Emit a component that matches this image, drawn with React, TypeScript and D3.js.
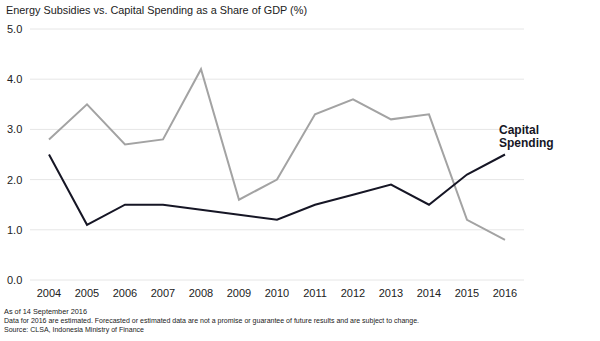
import React from "react";
import * as d3 from "d3";

const years = [2004, 2005, 2006, 2007, 2008, 2009, 2010, 2011, 2012, 2013, 2014, 2015, 2016];
const energySubsidies = [2.8, 3.5, 2.7, 2.8, 4.2, 1.6, 2.0, 3.3, 3.6, 3.2, 3.3, 1.2, 0.8];
const capitalSpending = [2.5, 1.1, 1.5, 1.5, 1.4, 1.3, 1.2, 1.5, 1.7, 1.9, 1.5, 2.1, 2.5];
const yTicks = [0, 1, 2, 3, 4, 5];
const title = "Energy Subsidies vs. Capital Spending as a Share of GDP (%)";
const footnotes = [
  "As of 14 September 2016",
  "Data for 2016 are estimated. Forecasted or estimated data are not a promise or guarantee of future results and are subject to change.",
  "Source: CLSA, Indonesia Ministry of Finance",
];
const footLengths = [83, 415, 140];

export default function App() {
  const W = 600, H = 341;
  const x = d3.scalePoint<number>().domain(years).range([49, 505]);
  const y = d3.scaleLinear().domain([0, 5]).range([280, 29]);
  const line = (vals: number[]) =>
    d3.line<number>().x((_, i) => x(years[i])!).y((d) => y(d))(vals) || "";
  const font = "Arial, 'Liberation Sans', sans-serif";
  return (
    <svg width={W} height={H} style={{ position: "absolute", left: 0, top: 0, background: "#fff" }}>
      <text x={6} y={14} fontFamily={font} fontSize={11} fill="#222" textLength={301} lengthAdjust="spacingAndGlyphs">{title}</text>
      {yTicks.map((t) => (
        <g key={t}>
          <line x1={30} x2={524} y1={y(t)} y2={y(t)} stroke="#e6e6e6" strokeWidth={1} />
          <text x={7} y={y(t) + 4} fontFamily={font} fontSize={11} fill="#222">{t.toFixed(1)}</text>
        </g>
      ))}
      {years.map((yr) => (
        <text key={yr} x={x(yr)!} y={297} textAnchor="middle" fontFamily={font} fontSize={11} fill="#222">{yr}</text>
      ))}
      <path d={line(energySubsidies)} fill="none" stroke="#a3a3a3" strokeWidth={2} />
      <path d={line(capitalSpending)} fill="none" stroke="#161625" strokeWidth={2} />
      <text x={499} y={134} fontFamily={font} fontSize={12} fontWeight="bold" fill="#161625">Capital</text>
      <text x={499} y={147} fontFamily={font} fontSize={12} fontWeight="bold" fill="#161625">Spending</text>
      {footnotes.map((f, i) => (
        <text key={i} x={4} y={314 + i * 9} fontFamily={font} fontSize={8} fill="#222"
          textLength={footLengths[i]} lengthAdjust="spacingAndGlyphs">{f}</text>
      ))}
    </svg>
  );
}
